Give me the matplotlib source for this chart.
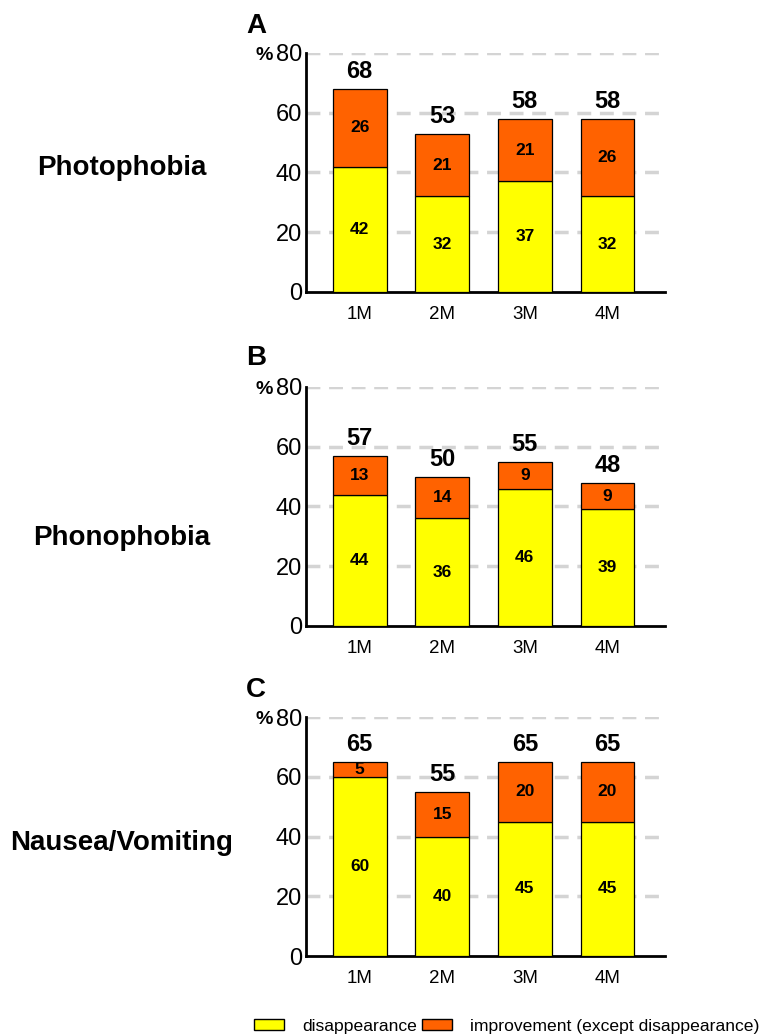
import matplotlib.pyplot as plt

plt.rcParams['font.family'] = ['Liberation Sans', 'DejaVu Sans']

months = ['1M', '2M', '3M', '4M']
symptoms = ['Photophobia', 'Phonophobia', 'Nausea/Vomiting']
letters = ['A', 'B', 'C']

disappear = [[42, 32, 37, 32],
             [44, 36, 46, 39],
             [60, 40, 45, 45]]
improve = [[26, 21, 21, 26],
           [13, 14, 9, 9],
           [5, 15, 20, 20]]
totals = [[68, 53, 58, 58],
          [57, 50, 55, 48],
          [65, 55, 65, 65]]

yellow = '#ffff00'
orange = '#ff6200'

fig = plt.figure(figsize=(7.69, 10.35), dpi=100)

# axes boxes in figure fraction (bottom, top), label y in pixels
rows = [(0.7179, 0.9488), (0.3952, 0.6261), (0.0763, 0.3072)]
label_y = [168, 538, 843]
letter_y = [26, 358, 690]
left, right = 0.398, 0.865

for i, (b, t) in enumerate(rows):
    ax = fig.add_axes([left, b, right - left, t - b])
    x = range(len(months))
    ax.bar(x, disappear[i], width=0.65, color=yellow, edgecolor='black', linewidth=0.9, zorder=3)
    ax.bar(x, improve[i], width=0.65, bottom=disappear[i], color=orange, edgecolor='black',
           linewidth=0.9, zorder=3)
    for j in x:
        d = disappear[i][j]
        m = improve[i][j]
        ax.text(j, d / 2, str(d), ha='center', va='center', fontsize=12.5, fontweight='bold', zorder=4)
        ax.text(j, d + m / 2, str(m), ha='center', va='center', fontsize=12.5, fontweight='bold', zorder=4)
        ax.text(j, totals[i][j] + 2, str(totals[i][j]), ha='center', va='bottom', fontsize=17,
                fontweight='bold', zorder=4)

    ax.set_ylim(0, 80)
    ax.set_xlim(-0.65, 3.7)
    ax.set_yticks([0, 20, 40, 60, 80])
    ax.set_xticks(list(x))
    ax.set_xticklabels(months)
    ax.tick_params(axis='y', length=0, labelsize=17, pad=3)
    ax.tick_params(axis='x', length=0, labelsize=13.5, pad=10)
    for yv in [20, 40, 60, 80]:
        ax.axhline(yv, color='#d4d4d4', linestyle=(0, (4, 2.5)), linewidth=2.5, zorder=1)
    ax.spines['top'].set_visible(False)
    ax.spines['right'].set_visible(False)
    ax.spines['left'].set_linewidth(2)
    ax.spines['bottom'].set_linewidth(2)
    ax.text(-0.092, 0.99, '%', transform=ax.transAxes, ha='right', va='center', fontsize=14,
            fontweight='bold')

    fig.text(246 / 769, 1 - letter_y[i] / 1035, letters[i], ha='left', va='center', fontsize=20,
             fontweight='bold')
    fig.text(122 / 769, 1 - label_y[i] / 1035, symptoms[i], ha='center', va='center', fontsize=20,
             fontweight='bold')

h1 = plt.Rectangle((0, 0), 1, 1, facecolor=yellow, edgecolor='black', linewidth=1)
h2 = plt.Rectangle((0, 0), 1, 1, facecolor=orange, edgecolor='black', linewidth=1)
fig.legend([h1, h2], ['disappearance', 'improvement (except disappearance)'], ncol=2,
           loc='center left', bbox_to_anchor=(254 / 769, 1 - 1026 / 1035), frameon=False,
           fontsize=12.6, handlelength=1.7, handleheight=0.6, columnspacing=0.3,
           handletextpad=1.05, borderpad=0, borderaxespad=0)

fig.savefig('out.png', dpi=100)
